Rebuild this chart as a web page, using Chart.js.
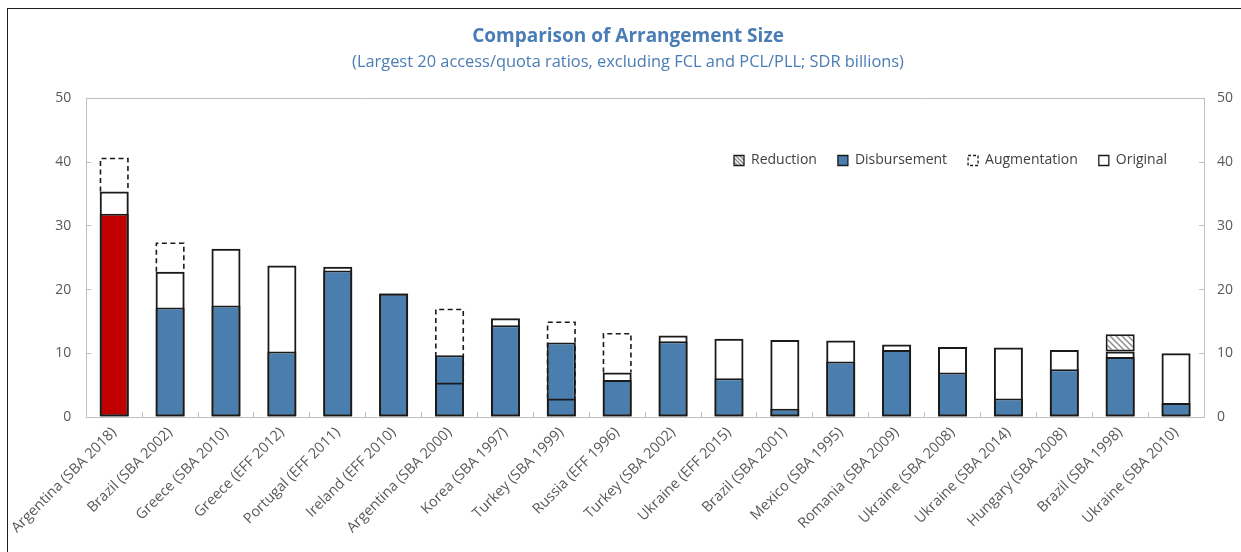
<!DOCTYPE html>
<html><head><meta charset="utf-8">
<script src="https://cdn.jsdelivr.net/npm/chart.js@4.4.0/dist/chart.umd.min.js"></script>
<style>
html,body{margin:0;padding:0;background:#fff;overflow:hidden}
#wrap{position:relative;width:1241px;height:552px}
#frame{position:absolute;left:7px;top:8px;width:1300px;height:600px;border-left:1px solid #1a1a1a;border-top:1px solid #1a1a1a;pointer-events:none}
canvas{position:absolute;left:0;top:0}
</style></head><body>
<div id="wrap"><canvas id="c" width="1241" height="552"></canvas><div id="frame"></div></div>
<script>
const categories = ['Argentina (SBA 2018)','Brazil (SBA 2002)','Greece (SBA 2010)','Greece (EFF 2012)','Portugal (EFF 2011)','Ireland (EFF 2010)','Argentina (SBA 2000)','Korea (SBA 1997)','Turkey (SBA 1999)','Russia (EFF 1996)','Turkey (SBA 2002)','Ukraine (EFF 2015)','Brazil (SBA 2001)','Mexico (SBA 1995)','Romania (SBA 2009)','Ukraine (SBA 2008)','Ukraine (SBA 2014)','Hungary (SBA 2008)','Brazil (SBA 1998)','Ukraine (SBA 2010)'];
const original      = [35.4, 22.8, 26.4, 23.8, 23.6, 19.4, 5.4, 15.5, 2.9, 7.0, 12.8, 12.3, 12.1, 12.0, 11.4, 11.0, 10.9, 10.5, 10.3, 10.0];
const augmentation  = [5.3, 4.6, 0, 0, 0, 0, 11.6, 0, 12.1, 6.2, 0, 0, 0, 0, 0, 0, 0, 0, 0, 0];
const disbursement  = [31.9, 17.2, 17.5, 10.3, 23.0, 19.4, 9.7, 14.4, 11.7, 5.8, 11.9, 6.1, 1.3, 8.7, 10.5, 7.0, 2.9, 7.5, 9.4, 2.2];
const reduction     = [0, 0, 0, 0, 0, 0, 0, 0, 0, 0, 0, 0, 0, 0, 0, 0, 0, 0, 2.7, 0];
const yTicks = [0, 10, 20, 30, 40, 50];
const highlight = 'Argentina (SBA 2018)';

const blue = '#4a7eae', red = '#c00000', edge = '#1a1a1a', axisGray = '#bfbfbf', textGray = '#595959';

function makeHatch(step) {
  const c = document.createElement('canvas');
  c.width = step; c.height = step;
  const g = c.getContext('2d');
  g.fillStyle = '#ffffff'; g.fillRect(0, 0, step, step);
  g.strokeStyle = '#8c8c8c'; g.lineWidth = 1.5;
  g.beginPath();
  g.moveTo(-1, -1); g.lineTo(step + 1, step + 1);
  g.moveTo(-1, step - 1); g.lineTo(1, step + 1);
  g.moveTo(step - 1, -1); g.lineTo(step + 1, 1);
  g.stroke();
  return g.createPattern(c, 'repeat');
}
const hatch = makeHatch(6);
const hatchSmall = makeHatch(4);

Chart.defaults.font.family = "'Open Sans', 'Noto Sans', sans-serif";

const framePlugin = {
  id: 'framePlugin',
  beforeLayout(chart) {
    const lg = chart.legend;
    if (lg && !lg._noSpace) {
      const origFit = lg.fit.bind(lg);
      lg.fit = function () { origFit(); this._fullH = this.height; this.height = 0; };
      lg._noSpace = true;
    }
  },
  afterLayout(chart) {
    const lg = chart.legend, a = chart.chartArea;
    if (lg) {
      const h = lg._fullH || 40;
      lg.top = a.top + 34; lg.bottom = lg.top + h; lg.height = h;
      lg.left = a.left; lg.right = a.right - 16; lg.width = lg.right - lg.left;
    }
  },
  beforeDatasetsDraw(chart) {
    const {ctx, chartArea: a} = chart;
    ctx.save(); ctx.strokeStyle = axisGray; ctx.lineWidth = 1;
    ctx.beginPath(); ctx.moveTo(a.left, Math.round(a.top) + 0.5); ctx.lineTo(a.right, Math.round(a.top) + 0.5); ctx.stroke();
    ctx.restore();
  },
  afterDatasetsDraw(chart) {
    const idx = chart.data.datasets.findIndex(d => d.label === 'Augmentation');
    const meta = chart.getDatasetMeta(idx);
    const ctx = chart.ctx;
    ctx.save(); ctx.strokeStyle = edge; ctx.lineWidth = 1.6; ctx.setLineDash([5, 3.5]);
    meta.data.forEach(el => {
      const p = el.getProps(['x', 'y', 'base', 'width'], true);
      if (!isFinite(p.y) || !isFinite(p.base) || Math.abs(p.base - p.y) < 1) return;
      const lw = 0.8;
      const top = Math.min(p.y, p.base), bot = Math.max(p.y, p.base);
      ctx.beginPath();
      ctx.moveTo(p.x - p.width / 2 + lw, bot);
      ctx.lineTo(p.x - p.width / 2 + lw, top + lw);
      ctx.lineTo(p.x + p.width / 2 - lw, top + lw);
      ctx.lineTo(p.x + p.width / 2 - lw, bot);
      ctx.stroke();
    });
    ctx.restore();
  }
};

const legendFill = { 'Reduction': hatchSmall, 'Disbursement': blue, 'Augmentation': '#ffffff', 'Original': '#ffffff' };

const yCommon = {
  type: 'linear', min: 0, max: 50,
  afterBuildTicks: s => { s.ticks = yTicks.map(v => ({ value: v })); },
  grid: { drawOnChartArea: false, drawTicks: true, tickLength: -5, color: axisGray },
  border: { display: true, color: axisGray, width: 1 }
};

new Chart(document.getElementById('c'), {
  type: 'bar',
  data: {
    labels: categories,
    datasets: [
      { label: 'Reduction', data: categories.map((c, i) => reduction[i] ? [original[i], original[i] + reduction[i]] : null),
        backgroundColor: hatch, borderColor: edge, borderWidth: 2, borderSkipped: false, order: 0 },
      { label: 'Disbursement', data: disbursement.map(v => [0, v]),
        backgroundColor: c => categories[c.dataIndex] === highlight ? red : blue,
        borderColor: edge, borderWidth: 2, borderSkipped: false, order: 3 },
      { label: 'Augmentation', data: categories.map((c, i) => augmentation[i] ? [original[i], original[i] + augmentation[i]] : null),
        backgroundColor: 'rgba(0,0,0,0)', borderWidth: 0, order: 1 },
      { label: 'Original', data: original.map(v => [0, v]),
        backgroundColor: 'rgba(0,0,0,0)', borderColor: edge, borderWidth: 2, borderSkipped: false, order: 2 }
    ]
  },
  options: {
    responsive: false,
    animation: false,
    devicePixelRatio: 1,
    layout: { padding: { left: 20, right: 5, top: 4, bottom: 5 } },
    datasets: { bar: { grouped: false, barPercentage: 0.52, categoryPercentage: 1 } },
    scales: {
      x: {
        grid: { display: true, drawOnChartArea: false, drawTicks: true, tickLength: -5, color: axisGray, offset: true },
        border: { display: true, color: axisGray, width: 1 },
        ticks: { minRotation: 45, maxRotation: 45, autoSkip: false, padding: 12, color: textGray, font: { size: 14.5 } },
        afterFit: s => { s.height = 130; }
      },
      y: Object.assign({}, yCommon, {
        position: 'left',
        ticks: { padding: 20, color: textGray, font: { size: 14 } },
        afterFit: s => { s.width = 66; }
      }),
      y2: Object.assign({}, yCommon, {
        position: 'right',
        ticks: { padding: 18, color: textGray, font: { size: 14 } },
        afterFit: s => { s.width = 32; }
      })
    },
    plugins: {
      tooltip: { enabled: false },
      title: { display: true, text: 'Comparison of Arrangement Size', color: '#4a7db5',
        font: { size: 19, weight: 'bold' }, padding: { top: 21, bottom: 2 } },
      subtitle: { display: true, text: '(Largest 20 access/quota ratios, excluding FCL and PCL/PLL; SDR billions)', color: '#4a7db5',
        font: { size: 16.4, weight: 'normal' }, padding: { top: 3, bottom: 26 } },
      legend: {
        position: 'top', align: 'end',
        labels: {
          boxWidth: 10, boxHeight: 10, padding: 21, color: '#404040', font: { size: 14 },
          generateLabels(chart) {
            return chart.data.datasets.map((ds, i) => ({
              text: ds.label, datasetIndex: i,
              fillStyle: legendFill[ds.label], strokeStyle: edge, lineWidth: 1.3,
              lineDash: ds.label === 'Augmentation' ? [3, 2] : [],
              hidden: false, fontColor: '#404040'
            }));
          }
        }
      }
    }
  },
  plugins: [framePlugin]
});
</script>
</body></html>
